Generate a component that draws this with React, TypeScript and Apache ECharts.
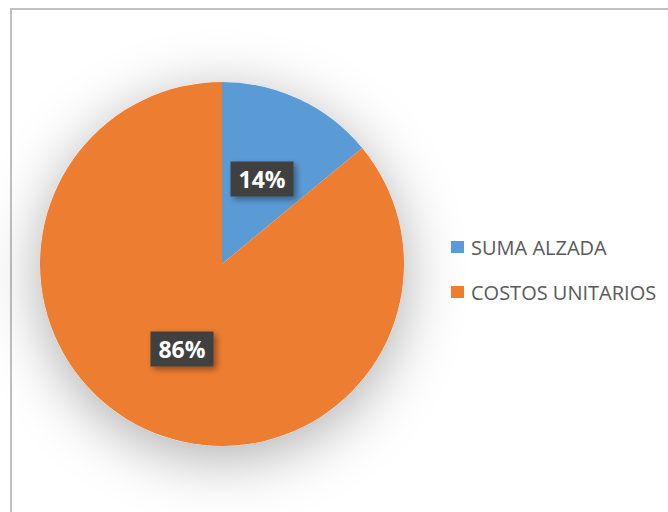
import React, { useEffect, useRef } from "react";
import * as echarts from "echarts";

const categories = ["SUMA ALZADA", "COSTOS UNITARIOS"];
const values = [14, 86];
const colors = ["#5b9bd5", "#ed7d31"];

export default function App() {
  const ref = useRef<HTMLDivElement>(null);
  useEffect(() => {
    const chart = echarts.init(ref.current!, undefined, { renderer: "svg" });
    const total = values.reduce((a, b) => a + b, 0);
    chart.setOption({
      animation: false,
      backgroundColor: "#ffffff",
      graphic: [
        {
          type: "rect",
          shape: { x: 11, y: 9, width: 700, height: 600 },
          style: { fill: "none", stroke: "#c0c0c0", lineWidth: 2 },
          z: 0,
        },
      ],
      legend: {
        orient: "vertical",
        left: 446,
        top: 232,
        itemWidth: 13,
        itemHeight: 12,
        itemGap: 25,
        icon: "rect",
        textStyle: {
          fontFamily: "Open Sans",
          fontSize: 20,
          lineHeight: 20,
          color: "#595959",
          letterSpacing: 1,
          padding: [0, 0, 0, 2],
        },
        data: categories,
      },
      series: [
        {
          type: "pie",
          silent: true,
          center: [222, 264],
          radius: 182,
          z: 1,
          label: { show: false },
          labelLine: { show: false },
          itemStyle: {
            color: "#ffffff",
            shadowBlur: 60,
            shadowColor: "rgba(0,0,0,0.32)",
            shadowOffsetY: 12,
          },
          data: [{ value: total, name: "_shadow" }],
          legendHoverLink: false,
        },
        {
          type: "pie",
          center: [222, 264],
          radius: 182,
          startAngle: 90,
          clockwise: true,
          z: 2,
          itemStyle: { borderWidth: 0 },
          label: {
            show: true,
            position: "inside",
            formatter: (p: any) => Math.round(p.percent) + "%",
            fontFamily: "Open Sans",
            fontWeight: "bold",
            fontSize: 23,
            color: "#ffffff",
            backgroundColor: "#404040",
            padding: [6, 8, 6, 8],
            shadowBlur: 6,
            shadowOffsetX: 3,
            shadowOffsetY: 3,
            shadowColor: "rgba(0,0,0,0.4)",
          },
          data: categories.map((c, i) => ({ name: c, value: values[i], itemStyle: { color: colors[i] } })),
        },
      ],
    });
    return () => chart.dispose();
  }, []);
  return (
    <div
      ref={ref}
      style={{ position: "fixed", left: 0, top: 0, width: 668, height: 512 }}
    />
  );
}
